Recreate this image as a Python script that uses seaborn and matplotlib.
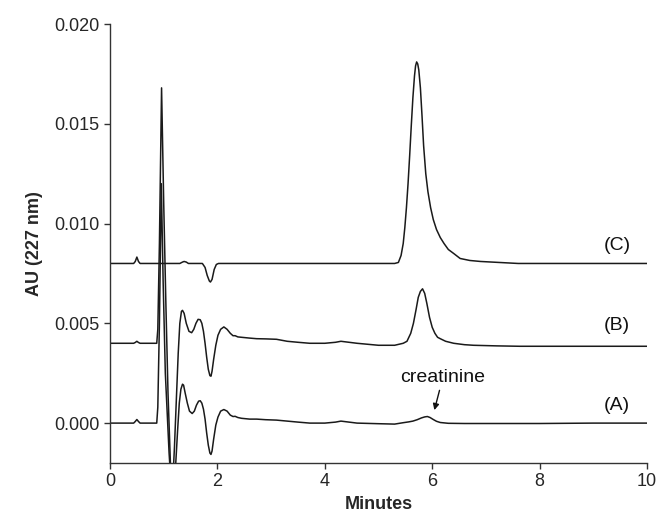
import numpy as np
import pandas as pd
import matplotlib
matplotlib.use("Agg")
import matplotlib.pyplot as plt
import seaborn as sns

# values (minutes, AU)
time_a = [0.0, 0.44, 0.47, 0.50, 0.53, 0.56, 0.87, 0.89, 0.92, 0.955, 0.99, 1.03, 1.10, 1.17,
          1.22, 1.26, 1.29, 1.32, 1.35, 1.37, 1.40, 1.44, 1.48, 1.53, 1.57, 1.61, 1.65, 1.68,
          1.71, 1.74, 1.77, 1.80, 1.83, 1.86, 1.88, 1.90, 1.93, 1.97, 2.01, 2.06, 2.12, 2.18,
          2.24, 2.29, 2.33, 2.38, 2.45, 2.60, 2.73, 2.90, 3.10, 3.30, 3.50, 3.72, 4.00, 4.20,
          4.30, 4.45, 4.60, 5.00, 5.30, 5.46, 5.56, 5.64, 5.72, 5.80, 5.86, 5.91, 5.96, 6.02,
          6.08, 6.15, 6.30, 6.60, 7.00, 8.00, 9.00, 10.0]
au_a = [0.0, 0.0, 0.00008, 0.00018, 0.00008, 0.0, 0.0, 0.0008, 0.0050, 0.0120, 0.0070, 0.0025,
        -0.0015, -0.0045, -0.0022, -0.0003, 0.0010, 0.0017, 0.00195, 0.0019, 0.0015, 0.0010,
        0.0006, 0.00048, 0.0006, 0.0009, 0.0011, 0.00112, 0.0010, 0.0007, 0.0002, -0.0005,
        -0.0011, -0.0015, -0.00157, -0.0014, -0.0008, -0.0001, 0.0003, 0.0006, 0.00068,
        0.0006, 0.0004, 0.00033, 0.00034, 0.00028, 0.00024, 0.0002, 0.0002, 0.00017, 0.00015,
        0.0001, 0.00005, 0.0, 0.0, 0.00005, 0.0001, 0.00005, 0.0, -0.00003, -0.00005,
        0.00002, 0.00006, 0.0001, 0.00017, 0.00026, 0.00031, 0.00033, 0.00028, 0.00018,
        0.00009, 0.00003, -0.00001, -0.00002, -0.00002, -0.00002, 0.0, 0.0]

time_b = [0.0, 0.44, 0.47, 0.50, 0.53, 0.56, 0.87, 0.89, 0.92, 0.96, 1.00, 1.04, 1.08, 1.15,
          1.20, 1.24, 1.27, 1.30, 1.33, 1.35, 1.38, 1.42, 1.47, 1.52, 1.56, 1.60, 1.64, 1.68,
          1.71, 1.74, 1.77, 1.80, 1.83, 1.86, 1.88, 1.90, 1.93, 1.97, 2.01, 2.06, 2.12, 2.18,
          2.24, 2.29, 2.33, 2.38, 2.45, 2.60, 2.73, 2.90, 3.10, 3.30, 3.50, 3.72, 4.00, 4.20,
          4.30, 4.45, 4.60, 5.00, 5.30, 5.46, 5.53, 5.60, 5.65, 5.70, 5.74, 5.78, 5.82, 5.86,
          5.90, 5.95, 6.00, 6.05, 6.10, 6.15, 6.25, 6.40, 6.60, 6.77, 7.20, 7.63, 9.00, 10.0]
au_b = [0.0040, 0.0040, 0.00404, 0.0041, 0.00404, 0.0040, 0.0040, 0.0047, 0.0090, 0.0168,
        0.0110, 0.0060, 0.0015, -0.0040, -0.0012, 0.0015, 0.0035, 0.0050, 0.0056, 0.00565,
        0.0055, 0.0050, 0.0046, 0.00453, 0.0047, 0.0050, 0.0052, 0.00518, 0.0050, 0.0046,
        0.0040, 0.0033, 0.0027, 0.00238, 0.00235, 0.0026, 0.0032, 0.0039, 0.0044, 0.0047,
        0.00482, 0.0047, 0.0045, 0.00438, 0.00438, 0.00432, 0.0043, 0.00426, 0.00423,
        0.00422, 0.0042, 0.0041, 0.00405, 0.0040, 0.0040, 0.00405, 0.0041, 0.00405, 0.0040,
        0.0039, 0.0039, 0.0040, 0.0041, 0.0045, 0.0050, 0.0057, 0.0063, 0.0066, 0.00673,
        0.0065, 0.0060, 0.0053, 0.0048, 0.0045, 0.0043, 0.00423, 0.0041, 0.0040, 0.00393,
        0.0039, 0.00387, 0.00385, 0.00385, 0.00385]

time_c = [0.0, 0.44, 0.47, 0.50, 0.53, 0.56, 1.30, 1.35, 1.38, 1.42, 1.46, 1.72, 1.77, 1.81,
          1.85, 1.87, 1.90, 1.94, 1.98, 2.02, 5.30, 5.37, 5.42, 5.46, 5.49, 5.52, 5.55, 5.58,
          5.61, 5.64, 5.67, 5.69, 5.71, 5.73, 5.75, 5.78, 5.81, 5.84, 5.88, 5.92, 5.97, 6.02,
          6.08, 6.15, 6.22, 6.30, 6.40, 6.52, 6.70, 6.90, 7.60, 10.0]
au_c = [0.0080, 0.0080, 0.0081, 0.00832, 0.0081, 0.0080, 0.0080, 0.00807, 0.0081, 0.00807,
        0.0080, 0.0080, 0.0078, 0.0074, 0.00712, 0.00707, 0.0072, 0.0077, 0.00795, 0.0080,
        0.0080, 0.00805, 0.0084, 0.0090, 0.0098, 0.0108, 0.0120, 0.0134, 0.0149, 0.0163,
        0.0174, 0.0179, 0.0181, 0.0180, 0.0177, 0.0168, 0.0154, 0.0139, 0.0125, 0.0116,
        0.0108, 0.0102, 0.0097, 0.0093, 0.0090, 0.0087, 0.0085, 0.00825, 0.00815, 0.0081,
        0.0080, 0.0080]

trace_names = ["(A)", "(B)", "(C)"]
label_x = [9.44, 9.44, 9.44]
label_y = [0.0009, 0.0049, 0.0089]

df = pd.concat([
    pd.DataFrame({"Minutes": time_a, "AU": au_a, "trace": "(A)"}),
    pd.DataFrame({"Minutes": time_b, "AU": au_b, "trace": "(B)"}),
    pd.DataFrame({"Minutes": time_c, "AU": au_c, "trace": "(C)"}),
])

sns.set_style("ticks")
plt.rcParams['font.family'] = ['Liberation Sans', 'DejaVu Sans']

fig = plt.figure(figsize=(6.58, 5.23), dpi=100)
ax = fig.add_axes([0.1672, 0.1147, 0.8161, 0.8394])

for name in trace_names:
    sub = df[df["trace"] == name]
    sns.lineplot(data=sub, x="Minutes", y="AU", color="#1a1a1a", linewidth=1.1,
                 sort=False, estimator=None, ax=ax)

for name, lx, ly in zip(trace_names, label_x, label_y):
    ax.text(lx, ly, name, ha="center", va="center", fontsize=14, color="#111111")

ax.annotate("creatinine", xy=(6.04, 0.00065), xytext=(6.2, 0.0023),
            ha="center", va="center", fontsize=14, color="#111111",
            arrowprops=dict(arrowstyle="-|>", color="#111111", lw=1.0,
                            mutation_scale=9, shrinkA=1, shrinkB=0))

ax.set_xlim(0, 10)
ax.set_ylim(-0.002, 0.020)
ax.set_xticks([0, 2, 4, 6, 8, 10])
ax.set_yticks([0.000, 0.005, 0.010, 0.015, 0.020])
ax.set_yticklabels(["0.000", "0.005", "0.010", "0.015", "0.020"])
ax.tick_params(direction="out", length=4, width=1, labelsize=13, color="#333333")
ax.set_xlabel("Minutes", fontsize=13, fontweight="bold", labelpad=4)
ax.set_ylabel("AU (227 nm)", fontsize=13, fontweight="bold", labelpad=8)
sns.despine(ax=ax)
for s in ["left", "bottom"]:
    ax.spines[s].set_color("#333333")
    ax.spines[s].set_linewidth(1.0)

fig.savefig("out.png", dpi=100)
